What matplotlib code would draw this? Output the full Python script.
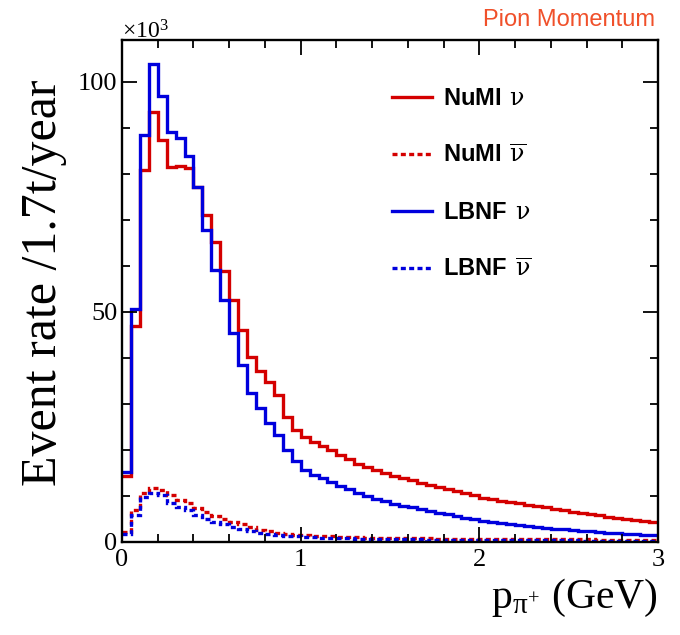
import numpy as np
import matplotlib
matplotlib.use('Agg')
import matplotlib.pyplot as plt
from matplotlib.ticker import MultipleLocator

plt.rcParams['mathtext.fontset'] = 'custom'
plt.rcParams['mathtext.rm'] = 'Liberation Serif'
plt.rcParams['mathtext.it'] = 'Liberation Serif'
plt.rcParams['mathtext.sf'] = 'DejaVu Serif'
plt.rcParams['mathtext.bf'] = 'Liberation Sans:bold'

# bin edges: 60 bins of 0.05 GeV between 0 and 3
bin_edges = np.linspace(0, 3, 61)

# event rates in units of 1e3 per bin
numi_nu = [14.3, 47.0, 80.9, 93.5, 87.4, 81.5, 81.8, 81.2, 77.2, 71.1,
           65.1, 58.8, 52.6, 46.1, 40.1, 37.2, 34.8, 32.0, 27.2, 24.3,
           22.8, 21.8, 20.9, 20.0, 18.9, 18.0, 17.0, 16.3, 15.6, 15.0,
           14.4, 13.9, 13.4, 12.9, 12.4, 11.9, 11.5, 11.0, 10.6, 10.2,
           9.6, 9.3, 9.0, 8.7, 8.4, 8.1, 7.8, 7.5, 7.2, 6.9,
           6.6, 6.3, 6.0, 5.8, 5.5, 5.3, 5.0, 4.8, 4.6, 4.4]
numi_nubar = [2.2, 7.0, 10.7, 11.8, 11.3, 10.2, 9.1, 8.5, 7.3, 6.6,
              5.7, 5.0, 4.4, 3.8, 3.2, 2.7, 2.3, 2.0, 1.8, 1.6,
              1.5, 1.4, 1.3, 1.2, 1.1, 1.05, 1.0, 0.95, 0.9, 0.9,
              0.85, 0.85, 0.8, 0.8, 0.8, 0.75, 0.75, 0.75, 0.7, 0.7,
              0.7, 0.7, 0.65, 0.65, 0.65, 0.6, 0.6, 0.6, 0.6, 0.55,
              0.55, 0.55, 0.55, 0.5, 0.5, 0.5, 0.5, 0.5, 0.5, 0.5]
lbnf_nu = [15.1, 50.6, 88.5, 103.9, 97.0, 89.0, 87.8, 83.8, 77.2, 67.8,
           59.1, 52.6, 45.5, 38.5, 32.3, 29.1, 25.8, 23.3, 19.9, 17.5,
           15.7, 14.6, 13.8, 13.1, 12.2, 11.5, 10.6, 10.0, 9.4, 8.8,
           8.3, 7.9, 7.5, 7.1, 6.7, 6.4, 6.0, 5.7, 5.3, 5.0,
           4.5, 4.3, 4.1, 3.9, 3.7, 3.5, 3.3, 3.1, 2.9, 2.75,
           2.6, 2.45, 2.3, 2.15, 2.0, 1.9, 1.8, 1.7, 1.6, 1.5]
lbnf_nubar = [1.7, 5.9, 9.7, 10.6, 10.2, 8.5, 7.7, 7.0, 5.9, 5.0,
              4.3, 3.8, 3.3, 2.8, 2.4, 2.0, 1.8, 1.6, 1.4, 1.25,
              1.15, 1.05, 0.95, 0.9, 0.85, 0.8, 0.75, 0.7, 0.65, 0.65,
              0.6, 0.6, 0.55, 0.55, 0.5, 0.5, 0.5, 0.45, 0.45, 0.45,
              0.45, 0.4, 0.4, 0.4, 0.4, 0.4, 0.35, 0.35, 0.35, 0.35,
              0.35, 0.3, 0.3, 0.3, 0.3, 0.3, 0.3, 0.3, 0.3, 0.3]

red = '#d40000'
blue = '#0000dd'
dot = (0, (1.5, 1.0))

fig = plt.figure(figsize=(6.8, 6.35), dpi=100)
ax = fig.add_axes([0.1794, 0.1465, 0.9676 - 0.1794, 0.937 - 0.1465])

ax.stairs(numi_nu, bin_edges, baseline=None, color=red, lw=2.4, label=r'$\mathbf{NuMI}\ \,\mathsf{\nu}$')
ax.stairs(numi_nubar, bin_edges, baseline=None, color=red, lw=2.4, ls=dot, label=r'$\mathbf{NuMI}\ \,\overline{\mathsf{\nu}}$')
ax.stairs(lbnf_nu, bin_edges, baseline=None, color=blue, lw=2.4, label=r'$\mathbf{LBNF}\ \,\mathsf{\nu}$')
ax.stairs(lbnf_nubar, bin_edges, baseline=None, color=blue, lw=2.4, ls=dot, label=r'$\mathbf{LBNF}\ \,\overline{\mathsf{\nu}}$')

ax.set_xlim(0, 3)
ax.set_ylim(0, 109.1)
ax.xaxis.set_major_locator(MultipleLocator(1))
ax.xaxis.set_minor_locator(MultipleLocator(0.2))
ax.yaxis.set_major_locator(MultipleLocator(50))
ax.yaxis.set_minor_locator(MultipleLocator(10))
ax.tick_params(which='both', direction='in', top=True, right=True, width=1.3, labelsize=19, colors='black')
ax.tick_params(which='major', length=11)
ax.tick_params(which='minor', length=6)
ax.tick_params(axis='x', pad=5)
for lab in ax.get_xticklabels() + ax.get_yticklabels():
    lab.set_family('Liberation Serif')
for s in ax.spines.values():
    s.set_linewidth(1.7)

ax.set_xlabel(r'$\mathrm{p}_{\pi^{+}}$ (GeV)', family='Liberation Serif', fontsize=30, loc='right')
ax.set_ylabel('Event rate /1.7t/year', family='Liberation Serif', fontsize=36, loc='top')
ax.yaxis.set_label_coords(-0.103, 0.922)

fig.text(0.1794, 0.932, r'×10$^{3}$', family='Liberation Serif', fontsize=17, ha='left', va='bottom')
fig.text(0.963, 0.968, 'Pion Momentum', family='Liberation Sans', fontsize=17, color='#f0502a', ha='right', va='center')

leg = ax.legend(loc='upper left', bbox_to_anchor=(0.4645, 0.951), frameon=False, fontsize=17,
                handlelength=1.7, handletextpad=0.45, labelspacing=1.4)

fig.savefig('out.png', dpi=100)
